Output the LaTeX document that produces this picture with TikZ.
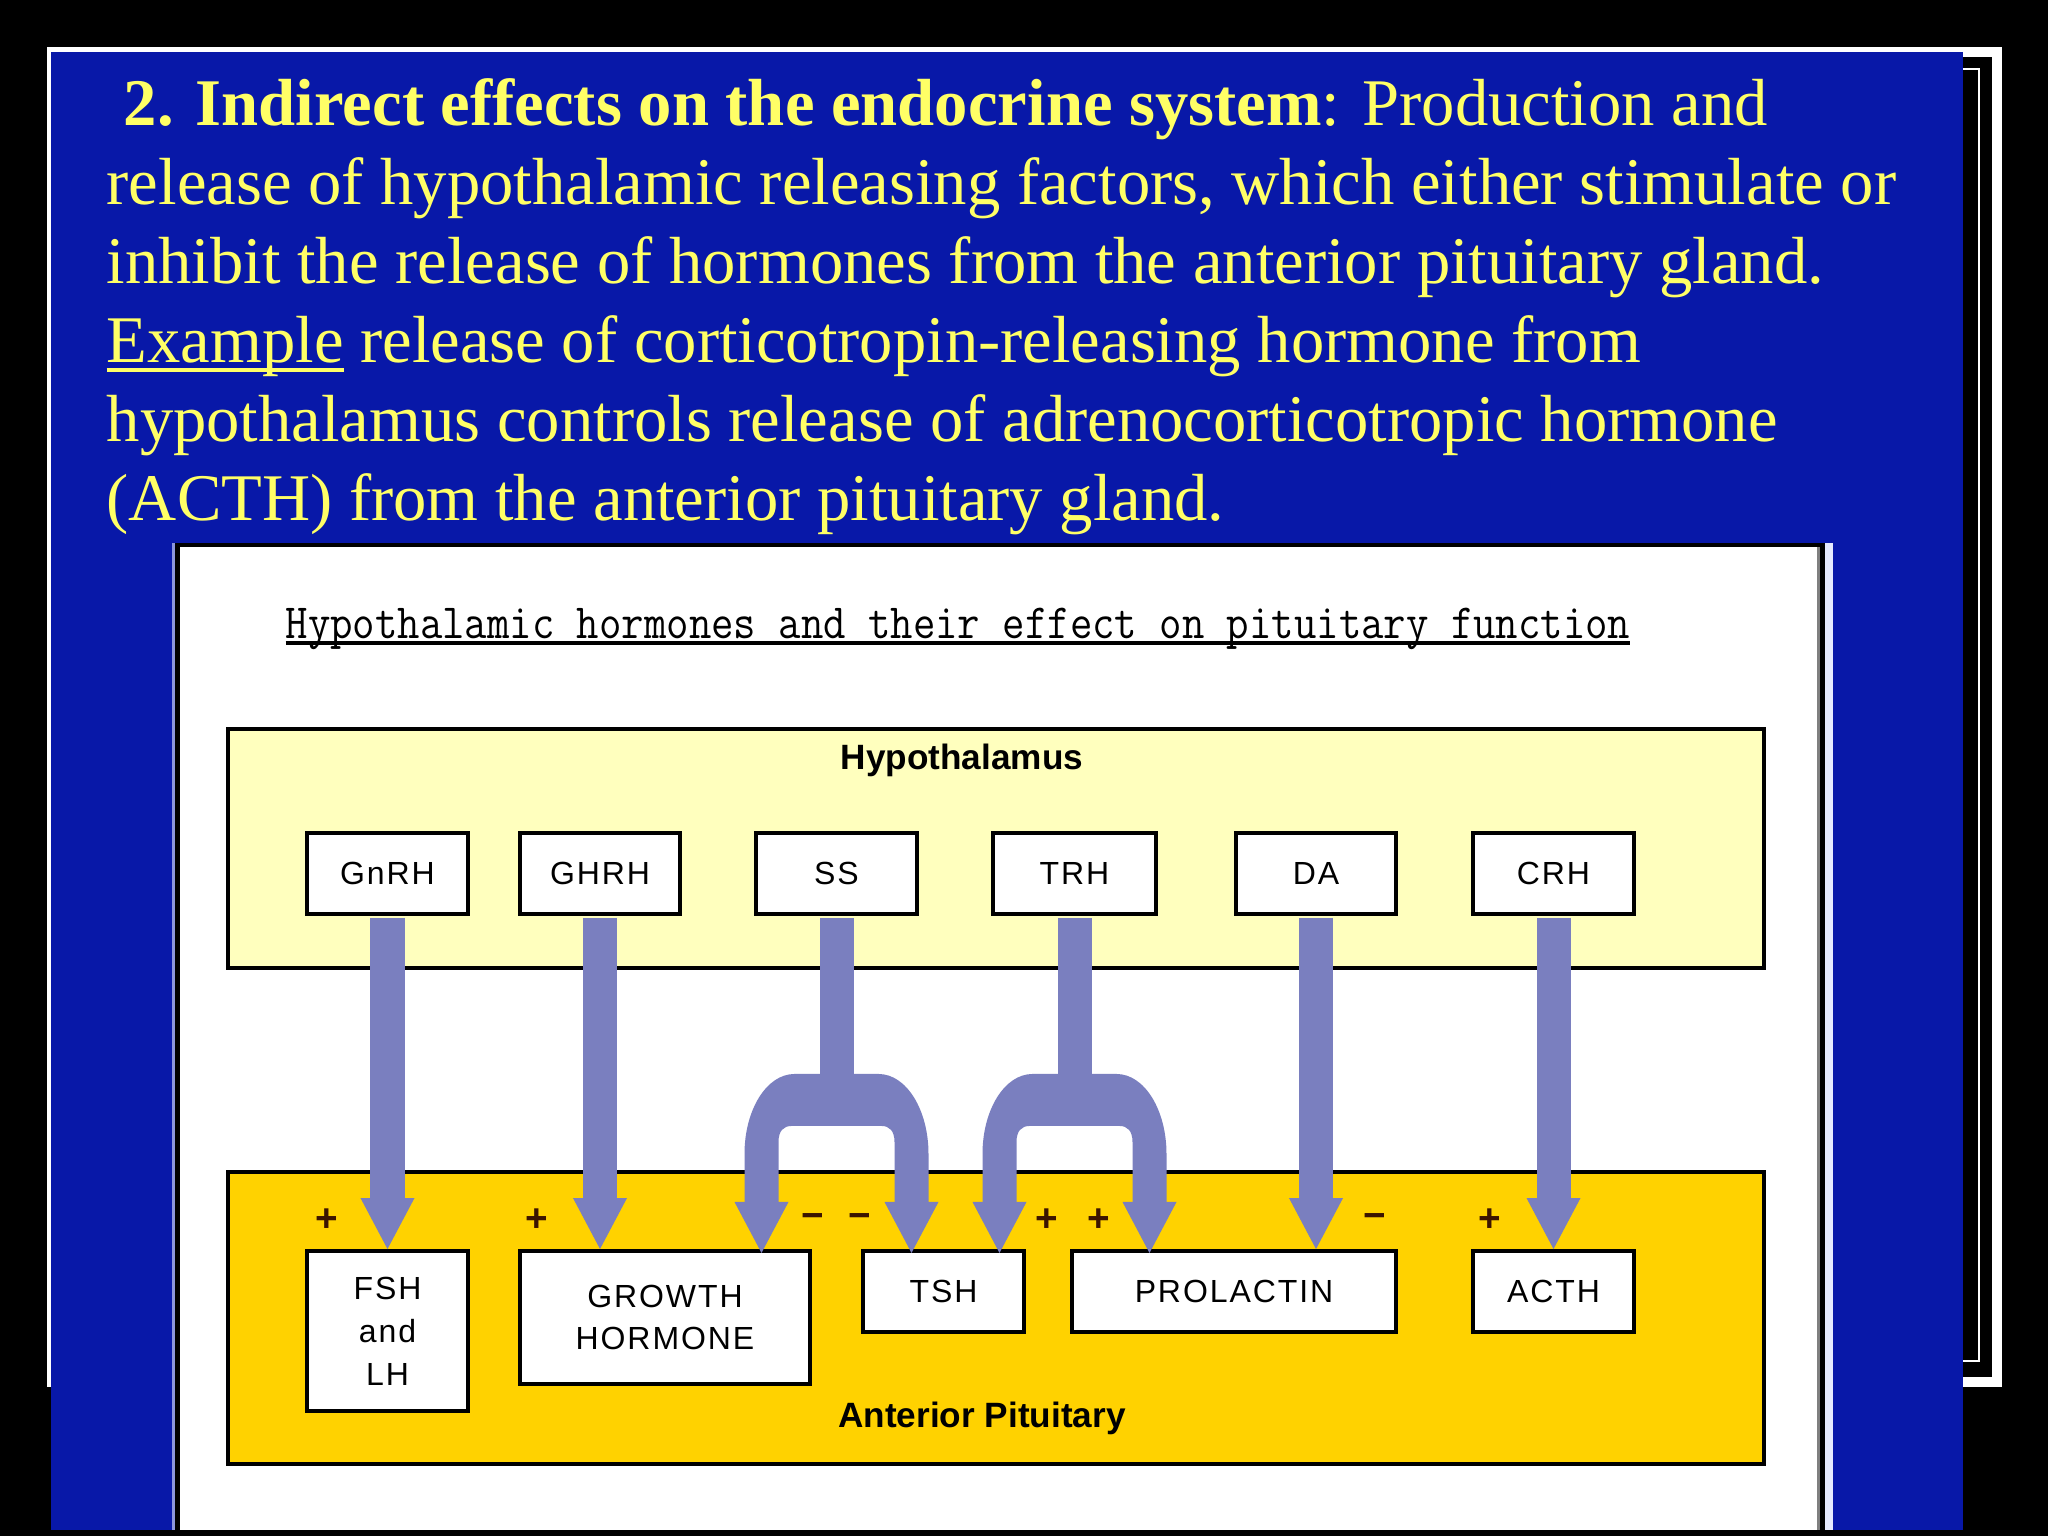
\documentclass[tikz,border=0pt]{standalone}
\usepackage{fontspec}
\setmainfont{Liberation Serif}
\newfontfamily\boxfont{Liberation Sans}[LetterSpace=6]
\newfontfamily\labfont{Liberation Sans}
\usetikzlibrary{arrows.meta}
\definecolor{slideblue}{RGB}{8,24,168}
\definecolor{slideyellow}{RGB}{255,255,102}
\definecolor{hypofill}{RGB}{255,255,190}
\definecolor{antfill}{RGB}{255,210,0}
\definecolor{arrowc}{RGB}{122,127,191}
\definecolor{signc}{RGB}{60,20,0}
\definecolor{panelrim}{RGB}{140,150,220}
\definecolor{panelrimr}{RGB}{230,235,255}
\newcommand\ulbar[3]{{\setbox0\hbox{#1}\rlap{\rule[#2]{\wd0}{#3}}\box0}}
\tikzset{
  slidetext/.style={anchor=base west, inner sep=0pt, text=slideyellow,
    font=\fontsize{18.95pt}{22.5pt}\selectfont},
  hbox/.style={draw=black, line width=1.1pt, fill=white, inner sep=0pt,
    align=center, text=black, font=\boxfont\fontsize{9.1pt}{12.2pt}\selectfont},
  region/.style={draw=black, line width=1.4pt},
  regionlabel/.style={anchor=base, inner sep=0pt, text=black,
    font=\labfont\bfseries\fontsize{10pt}{12pt}\selectfont},
  sign/.style={inner sep=0pt, text=signc, font=\labfont\bfseries\fontsize{11pt}{11pt}\selectfont},
  fat/.style={draw=arrowc, line width=0.34cm, shorten <=0.02cm,
    -{Triangle[width=0.54cm,length=0.51cm,line width=0pt]}}
}
\begin{document}
\begin{tikzpicture}[x=0.01cm,y=-0.01cm]
\useasboundingbox (0,0) rectangle (2048,1536);
\fill[black] (0,0) rectangle (2048,1536);
% slide frame
\fill[white] (47,47) rectangle (2002,1387);
\fill[black] (57,57) rectangle (1992,1377);
\draw[white, line width=0.57pt] (60,69) rectangle (1979,1361);
\fill[slideblue] (51,52) rectangle (1963,1530);
% slide text
\node[slidetext] (l1) at (123,125) {\textbf{2. Indirect effects on the endocrine system}: Production and};
\node[slidetext] (l2) at (106,204) {release of hypothalamic releasing factors, which either stimulate or};
\node[slidetext] (l3) at (106,283) {inhibit the release of hormones from the anterior pituitary gland.};
\node[slidetext] (l4) at (106,362) {\ulbar{Example}{-0.15em}{0.06em} release of corticotropin-releasing hormone from};
\node[slidetext] (l5) at (106,441) {hypothalamus controls release of adrenocorticotropic hormone};
\node[slidetext] (l6) at (106,520) {(ACTH) from the anterior pituitary gland.};
% diagram panel
\fill[panelrim] (172,543) rectangle (1833,1530);
\fill[panelrimr] (1825,543) rectangle (1833,1530);
\fill[black] (175,543) rectangle (1825,1530);
\fill[white] (180,547) rectangle (1817,1530);
\fill[gray] (1817,547) rectangle (1820,1530);
\node[anchor=base, inner sep=0pt, font=\fontsize{14pt}{16pt}\ttfamily] (dtitle) at (958,638)
  {\scalebox{0.884}[1]{\ulbar{Hypothalamic hormones and their effect on pituitary function}{-0.07cm}{0.04cm}}};
% regions
\draw[region, fill=hypofill] (228,729) rectangle (1764,968);
\draw[region, fill=antfill] (228,1172) rectangle (1764,1464);
\node[regionlabel] (hyplab) at (962,769) {Hypothalamus};
\node[regionlabel] (antlab) at (982,1427) {Anterior Pituitary};
% hypothalamic boxes
\node[hbox, minimum width=1.61cm, minimum height=0.81cm] (gnrh) at (387.5,873.5) {GnRH};
\node[hbox, minimum width=1.60cm, minimum height=0.81cm] (ghrh) at (600,873.5) {GHRH};
\node[hbox, minimum width=1.61cm, minimum height=0.81cm] (ss) at (836.5,873.5) {SS};
\node[hbox, minimum width=1.63cm, minimum height=0.81cm] (trh) at (1074.5,873.5) {TRH};
\node[hbox, minimum width=1.60cm, minimum height=0.81cm] (da) at (1316,873.5) {DA};
\node[hbox, minimum width=1.61cm, minimum height=0.81cm] (crh) at (1553.5,873.5) {CRH};
% pituitary boxes
\node[hbox, minimum width=1.61cm, minimum height=1.60cm] (fsh) at (387.5,1331) {FSH\\and\\LH};
\node[hbox, minimum width=2.90cm, minimum height=1.33cm] (growth) at (665,1317.5) {GROWTH\\HORMONE};
\node[hbox, minimum width=1.61cm, minimum height=0.81cm] (tsh) at (943.5,1291.5) {TSH};
\node[hbox, minimum width=3.24cm, minimum height=0.81cm] (prl) at (1234,1291.5) {PROLACTIN};
\node[hbox, minimum width=1.61cm, minimum height=0.81cm] (acth) at (1553.5,1291.5) {ACTH};
% straight arrows
\draw[fat] (gnrh.south) -- (fsh.north);
\draw[fat] (ghrh.south) -- (ghrh.south |- growth.north);
\draw[fat] (da.south) -- (da.south |- prl.north);
\draw[fat] (crh.south) -- (acth.north);
% forked arrows (SS and TRH)
\foreach \src in {ss,trh}{
  \begin{scope}[shift={(\src.south)}]
    \fill[arrowc] (-17,2) rectangle (17,170);
    \fill[arrowc] (-92,286) -- (-92,238) .. controls (-92,194) and (-70,158) .. (-42,158)
      -- (42,158) .. controls (70,158) and (92,194) .. (92,238) -- (92,286) -- (58,286)
      -- (58,226) .. controls (58,215) and (53,210) .. (45,210) -- (-45,210)
      .. controls (-53,210) and (-58,215) .. (-58,226) -- (-58,286) -- cycle;
    \fill[arrowc] (-102,286) -- (-48,286) -- (-75,337) -- cycle;
    \fill[arrowc] (48,286) -- (102,286) -- (75,337) -- cycle;
  \end{scope}
}
% signs
\node[sign] (s1) at (327,1220) {+};
\node[sign] (s2) at (537,1220) {+};
\node[sign] (s3) at (813,1221) {\textminus};
\node[sign] (s4) at (860,1221) {\textminus};
\node[sign] (s5) at (1047,1220) {+};
\node[sign] (s6) at (1099,1220) {+};
\node[sign] (s7) at (1375,1221) {\textminus};
\node[sign] (s8) at (1490,1220) {+};
\end{tikzpicture}
\end{document}
